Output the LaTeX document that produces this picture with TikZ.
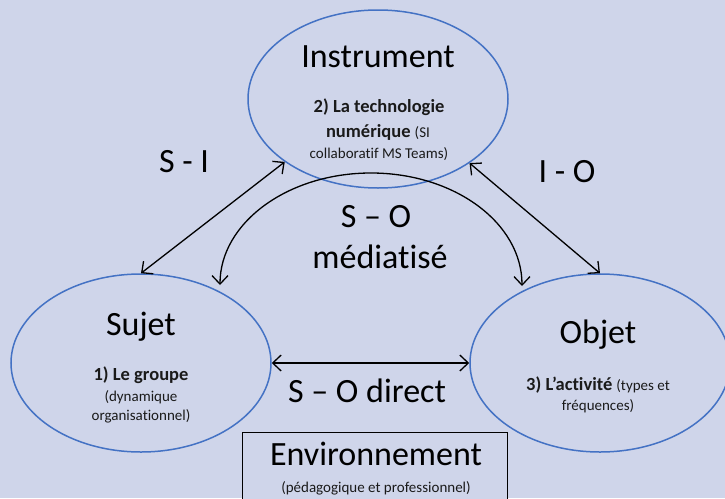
\documentclass[tikz,border=0pt]{standalone}
\usepackage{fontspec}
\setmainfont{Carlito}[Ligatures=NoCommon]
\usetikzlibrary{shapes.geometric,arrows.meta}
\definecolor{bgc}{HTML}{CFD5EA}
\definecolor{ellc}{HTML}{4472C4}
\definecolor{txt}{HTML}{1A1A1A}
\tikzset{
  ell/.style={ellipse, draw=ellc, line width=1.5pt, fill=bgc, inner sep=0pt, minimum width=260pt, minimum height=178pt},
  big/.style={anchor=base, inner sep=0pt, font=\fontsize{34}{40}\selectfont, text=black},
  sub/.style={anchor=base, inner sep=0pt, font=\fontsize{15}{18}\selectfont, text=txt},
  subb/.style={anchor=base, inner sep=0pt, font=\fontsize{18.5}{22}\selectfont\bfseries, text=txt},
  conn/.style={line width=1.3pt, {Straight Barb[length=8.5pt,width=16pt]}-{Straight Barb[length=8.5pt,width=16pt]}},
}
\begin{document}
\begin{tikzpicture}[x=1pt,y=-1pt]
\fill[bgc] (0,0) rectangle (725,498);
\useasboundingbox (0,0) rectangle (725,498);
% ellipses
\node[ell] (instr) at (378,99) {};
\node[ell] (sujet) at (141,363) {};
\node[ell] (objet) at (600,363) {};
% environment box
\node[draw=black, line width=1.3pt, fill=bgc, minimum width=265pt, minimum height=80pt, anchor=north west, inner sep=0pt] (envbox) at (242,432) {};
% texts
\node[big] (tinstr) at (378,67) {Instrument};
\node[subb] (ti1) at (379,112) {2) La technologie};
\node[sub] (ti2) at (378,137) {\fontsize{18.5}{22}\selectfont\bfseries numérique \fontsize{15}{18}\selectfont\mdseries (SI};
\node[sub] (ti3) at (379,158) {collaboratif MS Teams)};
\node[big] (tsujet) at (141,335) {Sujet};
\node[subb] (ts1) at (141,380) {1) Le groupe};
\node[sub] (ts2) at (141,401) {(dynamique};
\node[sub] (ts3) at (141,420) {organisationnel)};
\node[big] (tobjet) at (598,343) {Objet};
\node[sub] (to1) at (598,390) {\fontsize{18.5}{22}\selectfont\bfseries 3) L’activité \fontsize{15}{18}\selectfont\mdseries (types et};
\node[sub] (to2) at (598,410) {fréquences)};
\node[big] (tenv) at (376,465) {Environnement};
\node[sub] (tenv2) at (376,492) {(pédagogique et professionnel)};
\node[big] (lsi) at (184,172) {S - I};
\node[big] (lio) at (567,182) {I - O};
\node[big] (lso) at (376,227) {S – O};
\node[big] (lmed) at (380,268) {médiatisé};
\node[big] (ldir) at (367,402) {S – O direct};
% connectors
\draw[conn] (sujet.north) -- (instr.214.5);
\draw[conn] (instr.325) -- (objet.north);
\draw[conn] (sujet.east) -- (objet.west);
\coordinate (ma) at (220,285);
\coordinate (mb) at (522,286);
\draw[conn] (ma) .. controls (220,223) and (287.6,173) .. (371,173)
  .. controls (454.4,173) and (522,223) .. (mb);
\end{tikzpicture}
\end{document}
